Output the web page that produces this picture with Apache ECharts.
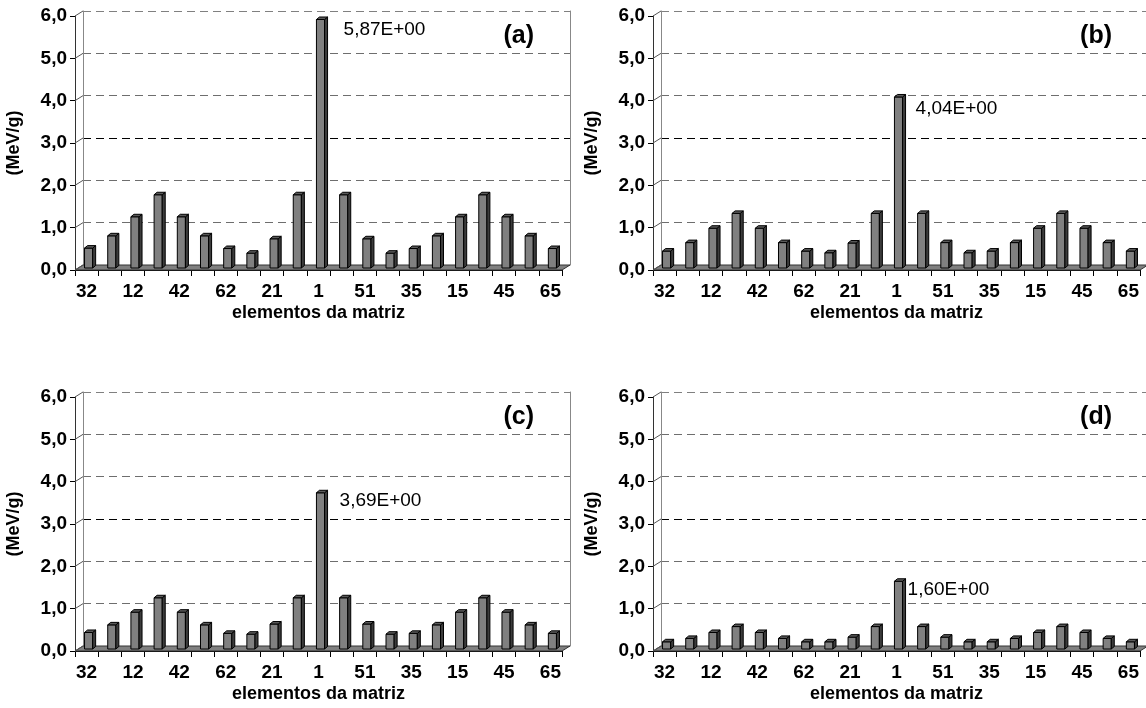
<!DOCTYPE html>
<html><head><meta charset="utf-8">
<script src="https://cdn.jsdelivr.net/npm/echarts@6/dist/echarts.min.js"></script>
<style>html,body{margin:0;padding:0;background:#fff}#c{width:1146px;height:708px}</style>
</head><body><div id="c"></div>
<script>
// Categories: every other label is shown in the picture; the hidden ones are placeholders.
const categories = ['32','22','12','2','42','52','62','31','21','11','1','41','51','25','35','5','15','55','45','61','65'];
const valuesA = [0.47,0.76,1.21,1.73,1.21,0.76,0.46,0.35,0.69,1.73,5.87,1.73,0.69,0.35,0.46,0.76,1.21,1.73,1.21,0.76,0.46];
const valuesB = [0.40,0.60,0.94,1.29,0.94,0.60,0.40,0.36,0.59,1.29,4.04,1.29,0.60,0.36,0.40,0.60,0.94,1.29,0.94,0.60,0.40];
const valuesC = [0.39,0.57,0.87,1.21,0.87,0.57,0.37,0.35,0.59,1.21,3.69,1.21,0.59,0.35,0.37,0.57,0.87,1.21,0.87,0.57,0.37];
const valuesD = [0.17,0.25,0.39,0.53,0.39,0.25,0.17,0.17,0.28,0.53,1.60,0.53,0.28,0.17,0.17,0.25,0.39,0.53,0.39,0.25,0.17];
const panelLetters = ['(a)','(b)','(c)','(d)'];
const xTitle = 'elementos da matriz';
const yTitle = '(MeV/g)';
const yMin = 0, yMax = 6, yStep = 1;

const FONT = 'Liberation Sans, Arial, Helvetica, sans-serif';
const W = 487, H = 254, DX = 8, DY = -5;
const panels = [
  {vals: valuesA, left: 75,  top: 16,  lab: [16, 10]},
  {vals: valuesB, left: 653, top: 16,  lab: [10, 12]},
  {vals: valuesC, left: 75,  top: 397, lab: [12, 8]},
  {vals: valuesD, left: 653, top: 397, lab: [2, 8]}
];

function fmtComma(v, d){ return v.toFixed(d).replace('.', ','); }

const grid = [], xAxis = [], yAxis = [], series = [], title = [];

panels.forEach(function(p, i){
  const vals = p.vals;
  const maxV = Math.max.apply(null, vals);
  grid.push({left: p.left, top: p.top, width: W, height: H, containLabel: false});
  grid.push({left: p.left + DX, top: p.top + DY, width: W, height: H, containLabel: false});
  xAxis.push({
    gridIndex: 2*i, type: 'category', data: categories, boundaryGap: true,
    axisLine: {show: true, lineStyle: {color: '#000', width: 1}},
    axisTick: {show: true, interval: 0, length: 6, lineStyle: {color: '#000'}},
    axisLabel: {interval: 1, color: '#000', fontFamily: FONT, fontWeight: 'bold', fontSize: 19, margin: 12},
    splitLine: {show: false},
    name: xTitle, nameLocation: 'middle', nameGap: 34,
    nameTextStyle: {color: '#000', fontFamily: FONT, fontWeight: 'bold', fontSize: 18}
  });
  xAxis.push({gridIndex: 2*i+1, type: 'value', min: 0, max: 1, show: false});
  yAxis.push({
    gridIndex: 2*i, type: 'value', min: yMin, max: yMax, interval: yStep,
    axisLine: {show: true, lineStyle: {color: '#333', width: 1}},
    axisTick: {show: true, length: 5, lineStyle: {color: '#000'}},
    axisLabel: {color: '#000', fontFamily: FONT, fontWeight: 'bold', fontSize: 19, margin: 8,
      formatter: function(v){ return fmtComma(v, 1); }},
    splitLine: {show: false},
    name: yTitle, nameLocation: 'middle', nameGap: 52, nameRotate: 90,
    nameTextStyle: {color: '#000', fontFamily: FONT, fontWeight: 'bold', fontSize: 18}
  });
  yAxis.push({
    gridIndex: 2*i+1, type: 'value', min: yMin, max: yMax, interval: yStep,
    axisLine: {show: true, lineStyle: {color: '#888', width: 1}},
    axisTick: {show: false}, axisLabel: {show: false},
    splitLine: {show: true, lineStyle: {
      color: ['#6e6e6e','#6e6e6e','#6e6e6e','#000','#6e6e6e','#6e6e6e','#808080'], type: [8, 5], width: 1}}
  });
  yAxis.push({
    gridIndex: 2*i+1, type: 'value', position: 'right', min: yMin, max: yMax, interval: yStep,
    axisLine: {show: true, lineStyle: {color: '#888', width: 1}},
    axisTick: {show: false}, axisLabel: {show: false}, splitLine: {show: false}
  });

  series.push({
    type: 'custom', xAxisIndex: 2*i, yAxisIndex: 3*i, z: 1, silent: true,
    data: [[0, 0]],
    renderItem: function(params, api){
      const bw = api.size([1, 0])[0];
      const p0 = api.coord([0, 0]);
      const pN = api.coord([categories.length - 1, 0]);
      const xl = p0[0] - bw/2, xr = pN[0] + bw/2, y0 = p0[1];
      const ch = [{type: 'polygon', shape: {points: [[xl, y0], [xr, y0], [xr+DX, y0+DY], [xl+DX, y0+DY]]},
        style: {fill: '#808080', stroke: '#333', lineWidth: 1}}];
      for (let v = yMin; v <= yMax; v += yStep){
        const q = api.coord([0, v]);
        ch.push({type: 'line', shape: {x1: xl, y1: q[1], x2: xl+DX, y2: q[1]+DY},
          style: {stroke: '#555', lineWidth: 1}});
      }
      return {type: 'group', children: ch};
    }
  });

  series.push({
    type: 'custom', xAxisIndex: 2*i, yAxisIndex: 3*i, z: 3, silent: true,
    data: vals.map(function(v, k){ return [k, v]; }),
    renderItem: function(params, api){
      const k = api.value(0), v = api.value(1);
      const bw = api.size([1, 0])[0];
      const c = api.coord([k, v]), b = api.coord([k, 0]);
      const fw = bw * 0.35;
      const xL = c[0] + 2 - fw/2, xR = xL + fw;
      const yT = c[1] - 2, yB = b[1] - 2;
      const dx = 3, dy = -2.5;
      const ch = [
        {type: 'rect', shape: {x: xL, y: yT, width: fw, height: yB - yT},
          style: {fill: '#808080', stroke: '#000', lineWidth: 1}},
        {type: 'polygon', shape: {points: [[xR, yT], [xR+dx, yT+dy], [xR+dx, yB+dy], [xR, yB]]},
          style: {fill: '#3c3c3c', stroke: '#000', lineWidth: 1}},
        {type: 'polygon', shape: {points: [[xL, yT], [xR, yT], [xR+dx, yT+dy], [xL+dx, yT+dy]]},
          style: {fill: '#5a5a5a', stroke: '#000', lineWidth: 1}}
      ];
      if (v === maxV){
        ch.push({type: 'text', style: {x: xR + dx + p.lab[0], y: yT + p.lab[1],
          text: fmtComma(v, 2) + 'E+00', fill: '#000', font: '19px ' + FONT,
          verticalAlign: 'middle', align: 'left'}});
      }
      return {type: 'group', children: ch};
    }
  });

  title.push({text: panelLetters[i], right: 1146 - (p.left + 464), top: p.top + 3,
    textStyle: {color: '#000', fontFamily: FONT, fontWeight: 'bold', fontSize: 25}});
});

const chart = echarts.init(document.getElementById('c'), null, {renderer: 'canvas'});
chart.setOption({animation: false, backgroundColor: '#fff', title: title, grid: grid,
  xAxis: xAxis, yAxis: yAxis, series: series});
</script></body></html>
